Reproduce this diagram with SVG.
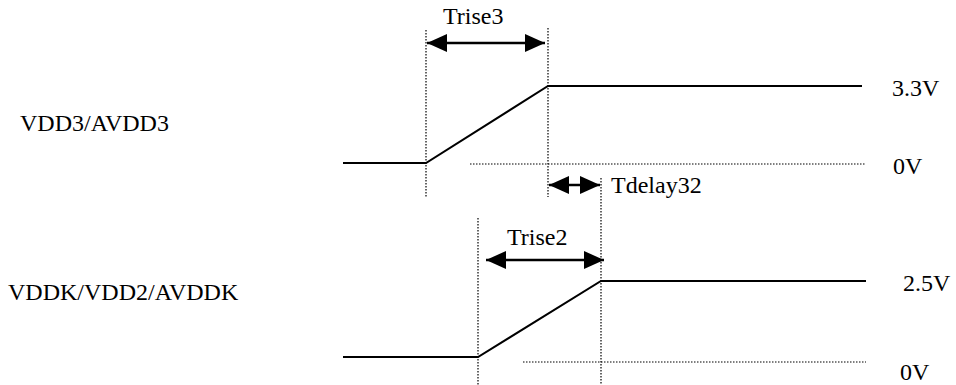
<svg xmlns="http://www.w3.org/2000/svg" width="956" height="385" viewBox="0 0 956 385">
<defs>
<marker id="ah" viewBox="0 0 20 18" refX="20" refY="9" markerWidth="20" markerHeight="18" markerUnits="userSpaceOnUse" orient="auto-start-reverse">
<path d="M0,0 L20,9 L0,18 Z" fill="#000"/>
</marker>
<style>
.t{font-family:'Liberation Serif','Times New Roman',serif;font-size:24px;fill:#000}
.w{fill:none;stroke:#000;stroke-width:2}
.d{fill:none;stroke:#000;stroke-width:1.2;stroke-dasharray:1.5 1.5}
.a{fill:none;stroke:#000;stroke-width:2.5;marker-start:url(#ah);marker-end:url(#ah)}
</style>
</defs>
<rect width="956" height="385" fill="#fff"/>
<g id="guides">
<line class="d" x1="426" y1="30" x2="426" y2="197"/>
<line class="d" x1="548" y1="28" x2="548" y2="197"/>
<line class="d" x1="470" y1="164" x2="866" y2="164"/>
<line class="d" x1="601" y1="178" x2="601" y2="385"/>
<line class="d" x1="478" y1="218" x2="478" y2="385"/>
<line class="d" x1="523" y1="362" x2="866" y2="362"/>
</g>
<g id="vdd3">
<polyline class="w" points="343,163 426,163 548,86 862,86"/>
<text class="t" x="20" y="131">VDD3/AVDD3</text>
<text class="t" x="892" y="96">3.3V</text>
<text class="t" x="893" y="174">0V</text>
</g>
<g id="vddk">
<polyline class="w" points="343,357 478,357 601,281 866,281"/>
<text class="t" x="8" y="300">VDDK/VDD2/AVDDK</text>
<text class="t" x="903" y="291">2.5V</text>
<text class="t" x="900" y="380">0V</text>
</g>
<g id="connectors">
<line class="a" x1="427" y1="43" x2="545" y2="43"/>
<line class="a" x1="549" y1="185" x2="600" y2="185"/>
<line class="a" x1="486" y1="260" x2="604" y2="260"/>
</g>
<g id="labels">
<text class="t" x="443" y="24">Trise3</text>
<text class="t" x="611" y="193">Tdelay32</text>
<text class="t" x="507" y="245">Trise2</text>
</g>
</svg>
